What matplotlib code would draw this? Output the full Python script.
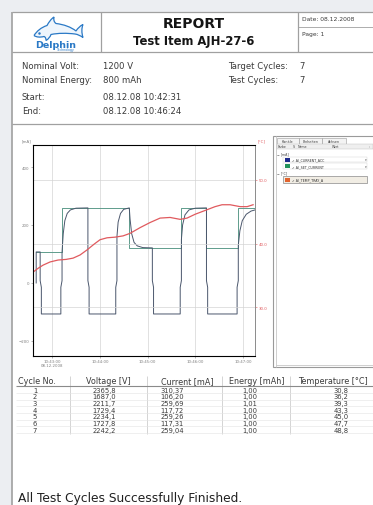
import numpy as np
import matplotlib.pyplot as plt
from matplotlib.patches import Rectangle, PathPatch
from matplotlib.path import Path

# report header
report_title = 'REPORT'
test_item = 'Test Item AJH-27-6'
report_date = 'Date: 08.12.2008'
page_no = 'Page: 1'

info_left = [('Nominal Volt:', '1200 V'), ('Nominal Energy:', '800 mAh'),
             ('Start:', '08.12.08 10:42:31'), ('End:', '08.12.08 10:46:24')]
info_right = [('Target Cycles:', '7'), ('Test Cycles:', '7')]

# cycle results
table_header = ['Cycle No.', 'Voltage [V]', 'Current [mA]', 'Energy [mAh]', 'Temperature [°C]']
cycle_no = [1, 2, 3, 4, 5, 6, 7]
voltage = [2365.8, 1687.0, 2211.7, 1729.4, 2234.1, 1727.8, 2242.2]
current = [310.37, 106.20, 259.69, 117.72, 259.26, 117.31, 259.04]
energy = [1.00, 1.00, 1.01, 1.00, 1.00, 1.00, 1.00]
temperature = [30.8, 36.2, 39.3, 43.3, 45.0, 47.7, 48.8]
footer = 'All Test Cycles Successfully Finished.'

# recorded channels, time in seconds after 10:42:00
set_t = [40, 73, 157, 222, 254, 294, 315]
set_ma = [107, 259, 121, 259, 121, 259, 259]

acc_t = [40, 40, 45, 45, 46.5, 46.5, 71, 71, 72.5, 72.5, 74, 76, 79, 83, 90, 105,
         105, 106.5, 106.5, 140, 140, 141.5, 141.5, 143, 146, 150, 157,
         158, 160, 163, 167, 174, 186, 186, 187.5, 187.5, 221, 221, 222.5, 222.5,
         224, 227, 232, 240, 254, 254, 255.5, 255.5, 292.5, 292.5, 294, 294,
         296, 299, 304, 310, 315]
acc_ma = [0, 107, 107, 8, -15, -107, -107, -15, 8, 107, 170, 215, 240, 252, 258, 259,
          8, -15, -107, -107, -15, 8, 160, 210, 240, 254, 259,
          220, 170, 140, 128, 122, 121, 8, -15, -107, -107, -15, 8, 150,
          200, 235, 252, 258, 259, 8, -15, -107, -107, -15, 8, 130,
          180, 215, 237, 248, 252]

temp_t = [36.1, 42.4, 48.7, 57.5, 67.5, 77.6, 86.4, 95.2, 104.0, 112.8, 120.3, 129.1,
          139.2, 149.2, 158.0, 170.6, 183.1, 195.7, 208.3, 220.9, 229.6, 239.7,
          252.3, 264.8, 273.6, 283.7, 296.3, 305.1, 312.6]
temp_c = [35.5, 36.1, 36.6, 37.1, 37.4, 37.5, 37.7, 38.2, 39.0, 39.9, 40.6, 40.9,
          41.0, 41.2, 41.6, 42.5, 43.3, 44.0, 44.1, 43.8, 44.0, 44.6,
          45.2, 45.8, 46.1, 46.1, 45.8, 45.8, 46.1]

time_ticks = [60, 120, 180, 240, 300]
time_labels = ['10:43:00\n08.12.2008', '10:44:00', '10:45:00', '10:46:00', '10:47:00']

channels = [('AI_CURRENT_ACC', '#1c2a8c'), ('AI_SET_CURRENT', '#22925a'),
            ('AI_TEMP_TRAY_A', '#e2642e')]

W, H = 373, 506
fig = plt.figure(figsize=(W / 100, H / 100), dpi=100)
fig.patch.set_facecolor('#eceef2')


def rect(x0, y0, x1, y1):
    return [x0 / W, 1 - y1 / H, (x1 - x0) / W, (y1 - y0) / H]


pg = fig.add_axes([0, 0, 1, 1])
pg.set_xlim(0, W)
pg.set_ylim(H, 0)
pg.axis('off')
pg.add_patch(Rectangle((12, 13), W, H, facecolor='white', edgecolor='none'))

line_c = '#a0a0a0'
def hline(y, x0, x1, c=line_c, lw=0.9):
    pg.plot([x0, x1], [y, y], color=c, lw=lw, solid_capstyle='butt')
def vline(x, y0, y1, c=line_c, lw=0.9):
    pg.plot([x, x], [y0, y1], color=c, lw=lw, solid_capstyle='butt')

# page frame and header cells
hline(13, 12, W)
vline(12, 13, H, lw=1.2)
hline(53, 12, W)
vline(101, 13, 53)
vline(298, 13, 53)
hline(28, 298, W, lw=0.6)
hline(125, 12, W)

txt = '#3a3a3a'
pg.text(194, 24, report_title, ha='center', va='center', fontsize=10,
        fontweight='bold', color='#151515')
pg.text(194, 41, test_item, ha='center', va='center', fontsize=8.4,
        fontweight='bold', color='#151515')
pg.text(302, 19.5, report_date, ha='left', va='center', fontsize=4.3, color=txt)
pg.text(302, 34.5, page_no, ha='left', va='center', fontsize=4.3, color=txt)

# logo
P = Path
verts = [(34, 36.5),
         (37, 32), (41, 28.5), (47, 26.5),
         (49, 23), (51, 20), (54, 18),
         (53.5, 21), (54, 23), (56, 24.5),
         (64, 25.5), (71, 28), (76, 32),
         (78, 29), (80, 27), (83, 25.5),
         (81.5, 29), (81.5, 34), (83, 38.5),
         (80, 36.5), (78, 35.5), (75, 35),
         (67, 34), (58, 34), (51, 35.5),
         (50, 38), (48.5, 40), (46, 41.5),
         (46, 39.5), (45.5, 38), (44, 37.5),
         (40, 38.5), (36.5, 38.3), (34, 36.5)]
codes = [P.MOVETO] + [P.CURVE4] * 33
pg.add_patch(PathPatch(Path(verts, codes), facecolor='#eef5fc',
                       edgecolor='#2a79c6', lw=0.9))
pg.plot([38.5], [34], marker='o', ms=0.8, color='#2a79c6')
pg.text(56, 45, 'Delphin', ha='center', va='center', fontsize=6.8,
        fontweight='bold', color='#2a79c6')
pg.text(66, 50.3, 'Technology', ha='center', va='center', fontsize=2.3,
        color='#2a79c6')

# test information
for i, (k, v) in enumerate(info_left):
    y = [66, 80, 97, 111][i]
    pg.text(22, y, k, ha='left', va='center', fontsize=6.1, color=txt)
    pg.text(103, y, v, ha='left', va='center', fontsize=6.1, color=txt)
for i, (k, v) in enumerate(info_right):
    y = [66, 80][i]
    pg.text(228, y, k, ha='left', va='center', fontsize=6.1, color=txt)
    pg.text(299, y, v, ha='left', va='center', fontsize=6.1, color=txt)

# chart
ax = fig.add_axes(rect(33, 146, 255, 357))
ax.set_facecolor('white')
ax.plot(set_t, set_ma, drawstyle='steps-post', color='#5e9c8c', lw=0.7)
ax.plot(acc_t, acc_ma, color='#4a566c', lw=0.7)
ax.set_xlim(36, 315)
ax.set_ylim(-252, 476)
ax.set_yticks([-200, 0, 200, 400])
ax.set_xticks(time_ticks)
ax.set_xticklabels(time_labels, linespacing=0.9)
ax.grid(axis='x', color='#d4d4d4', lw=0.5)
ax.set_axisbelow(True)
ax.tick_params(labelsize=2.8, colors='#808080', length=1.5, width=0.4, pad=1)
for s in ax.spines.values():
    s.set_color('#8c8c8c')
    s.set_linewidth(0.6)

ax2 = ax.twinx()
ax2.plot(temp_t, temp_c, color='#e05a5e', lw=0.9)
ax2.set_ylim(22.3, 55.5)
ax2.set_yticks([30, 40, 50])
ax2.set_yticklabels(['30.0', '40.0', '50.0'])
ax2.grid(axis='y', color='#d4d4d4', lw=0.5)
ax2.set_axisbelow(True)
ax2.tick_params(labelsize=2.8, colors='#e05a5e', length=1.5, width=0.4, pad=1)
ax2.spines['right'].set_color('#8c8c8c')
ax2.spines['right'].set_linewidth(0.6)

pg.text(27, 141, '[mA]', ha='center', va='center', fontsize=2.8, color='#808080')
pg.text(262, 141, '[°C]', ha='center', va='center', fontsize=2.8, color='#e05a5e')

# channel list panel
pg.add_patch(Rectangle((273, 137), 110, 231, facecolor='white',
                       edgecolor='#9a9a9a', lw=0.8))
vline(275.5, 137, 368, c='#c8c8c8', lw=0.6)
for x0, x1, name in [(277, 299, 'Kanäle'), (299, 322, 'Einheiten'), (322, 346, 'Achsen')]:
    pg.add_patch(Rectangle((x0, 138.5), x1 - x0, 6, facecolor='#f3f3f3',
                           edgecolor='#9a9a9a', lw=0.4))
    pg.text((x0 + x1) / 2, 141.5, name, ha='center', va='center', fontsize=2.4,
            color='#444444')
pg.add_patch(Rectangle((276.5, 145), 96, 4.5, facecolor='#efefef',
                       edgecolor='#bdbdbd', lw=0.3))
for x, h in [(277.5, 'Farbe'), (293, 'S'), (298, 'Name'), (332, 'Wert'), (369, ':')]:
    pg.text(x, 147.3, h, ha='left', va='center', fontsize=2.3, color='#444444')

pg.text(277, 154, '− [mA]', ha='left', va='center', fontsize=2.3, color='#444444')
pg.text(277, 173.5, '− [°C]', ha='left', va='center', fontsize=2.3, color='#444444')
for (name, col), y in zip(channels, [160.5, 167, 180.5]):
    if name == 'AI_TEMP_TRAY_A':
        pg.add_patch(Rectangle((283, y - 3.2), 84, 6.4, facecolor='#f1ede4',
                               edgecolor='#8a8a8a', lw=0.5))
    else:
        pg.add_patch(Rectangle((283, y - 2.8), 84, 5.6, facecolor='white',
                               edgecolor='#cfcfcf', lw=0.3))
        pg.text(366, y, '▾', ha='center', va='center', fontsize=2.5, color='#555555')
    pg.add_patch(Rectangle((284.5, y - 2), 5, 4, facecolor=col, edgecolor='none'))
    pg.text(291.5, y, '✓ ' + name, ha='left', va='center', fontsize=2.3, color='#333333')
hline(366, 276, W, c='#c8c8c8', lw=0.6)

# cycle table
col_x = [70, 147, 222, 290]
head_x = [37, 108, 187, 257, 333]
val_x = [35, 104, 172, 250, 341]
for x in col_x:
    vline(x, 377, 435, c='#c4c4c4', lw=0.5)
hline(387.3, 16, W, c='#8a8a8a', lw=0.8)
for j, h in enumerate(table_header):
    pg.text(head_x[j], 382, h, ha='center', va='center', fontsize=5.8, color=txt)

rows_y = [390.6, 397.3, 404.0, 410.7, 417.4, 424.1, 430.8]
for i, y in enumerate(rows_y):
    cells = [str(cycle_no[i]),
             f'{voltage[i]:.1f}'.replace('.', ','),
             f'{current[i]:.2f}'.replace('.', ','),
             f'{energy[i]:.2f}'.replace('.', ','),
             f'{temperature[i]:.1f}'.replace('.', ',')]
    for j, c in enumerate(cells):
        pg.text(val_x[j], y, c, ha='center', va='center', fontsize=4.9, color=txt)
    hline(y + 3.35, 16, W, c='#e4e4e4', lw=0.4)

pg.text(18, 498.5, footer, ha='left', va='center', fontsize=8.8, color='#202020')

plt.savefig('out.png', dpi=100, facecolor=fig.get_facecolor())
